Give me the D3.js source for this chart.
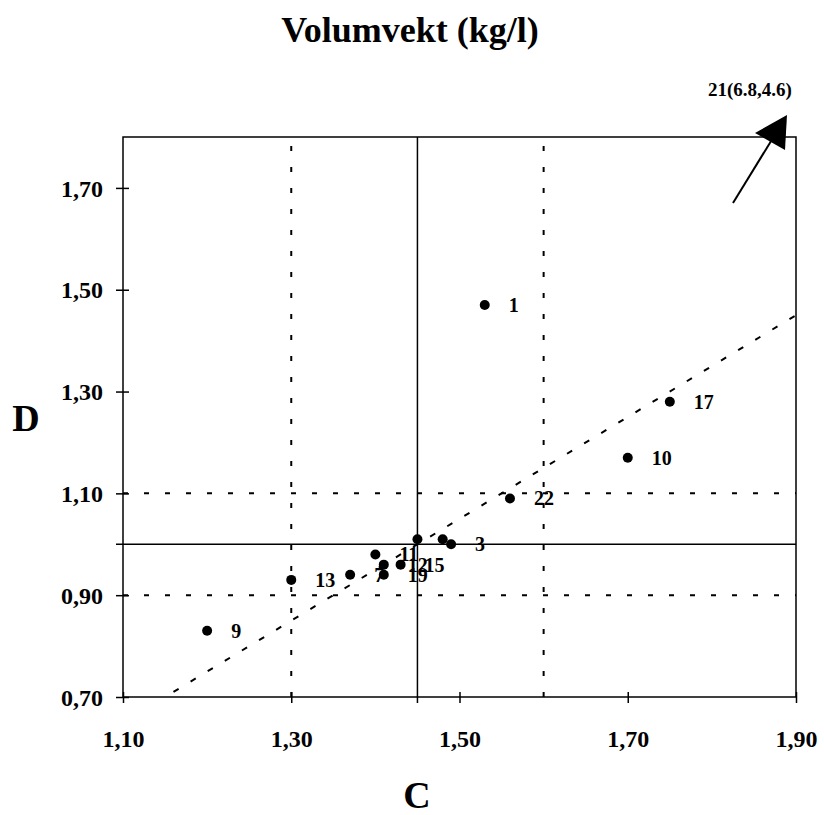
<!DOCTYPE html>
<html>
<head>
<meta charset="utf-8">
<script src="https://cdn.jsdelivr.net/npm/d3@7"></script>
<style>
  body { margin: 0; background: #fff; }
  text { font-family: "Liberation Serif", "Times New Roman", serif; font-weight: bold; fill: #000; }
</style>
</head>
<body>
<div id="chart"></div>
<script>
// data
const labels = ["1", "17", "10", "22", "3", "", "", "11", "7", "12", "15", "19", "13", "9"];
const cValues = [1.53, 1.75, 1.70, 1.56, 1.49, 1.48, 1.45, 1.40, 1.37, 1.41, 1.43, 1.41, 1.30, 1.20];
const dValues = [1.47, 1.28, 1.17, 1.09, 1.00, 1.01, 1.01, 0.98, 0.94, 0.96, 0.96, 0.94, 0.93, 0.83];
const xTicks = [1.10, 1.30, 1.50, 1.70, 1.90];
const yTicks = [0.70, 0.90, 1.10, 1.30, 1.50, 1.70];
const meanC = 1.45, meanD = 1.00;
const dashedC = [1.30, 1.60];
const dashedD = [0.90, 1.10];
const trendC = [1.16, 1.90];
const trendD = [0.71, 1.45];
const outlierLabel = "21(6.8,4.6)";

const width = 824, height = 815;
const margin = { top: 137, right: 28, bottom: 118, left: 123 };

const svg = d3.select("#chart")
    .append("svg")
    .attr("width", width)
    .attr("height", height);

const x = d3.scaleLinear().domain([1.10, 1.90]).range([margin.left, width - margin.right]);
const y = d3.scaleLinear().domain([0.70, 1.80]).range([height - margin.bottom, margin.top]);

const fmt = (d) => d.toFixed(2).replace(".", ",");

// dotted grid lines
svg.selectAll(".vdash").data(dashedC).enter()
    .append("line")
    .attr("x1", (d) => x(d)).attr("x2", (d) => x(d))
    .attr("y1", y.range()[0]).attr("y2", y.range()[1])
    .attr("stroke", "#000").attr("stroke-width", 2)
    .attr("stroke-dasharray", "5,16");

svg.selectAll(".hdash").data(dashedD).enter()
    .append("line")
    .attr("x1", x.range()[0]).attr("x2", x.range()[1])
    .attr("y1", (d) => y(d)).attr("y2", (d) => y(d))
    .attr("stroke", "#000").attr("stroke-width", 2)
    .attr("stroke-dasharray", "5,16");

// trend line
svg.append("line")
    .attr("x1", x(trendC[0])).attr("y1", y(trendD[0]))
    .attr("x2", x(trendC[1])).attr("y2", y(trendD[1]))
    .attr("stroke", "#000").attr("stroke-width", 2)
    .attr("stroke-dasharray", "6,14");

// mean lines (solid)
svg.append("line")
    .attr("x1", x(meanC)).attr("x2", x(meanC))
    .attr("y1", y.range()[0] + 6).attr("y2", y.range()[1])
    .attr("stroke", "#000").attr("stroke-width", 1.5);
svg.append("line")
    .attr("x1", x.range()[0] - 7).attr("x2", x.range()[1])
    .attr("y1", y(meanD)).attr("y2", y(meanD))
    .attr("stroke", "#000").attr("stroke-width", 1.5);

// frame
svg.append("rect")
    .attr("x", x.range()[0]).attr("y", y.range()[1])
    .attr("width", x.range()[1] - x.range()[0])
    .attr("height", y.range()[0] - y.range()[1])
    .attr("fill", "none").attr("stroke", "#000").attr("stroke-width", 1.5);

// axes
const xAxis = svg.append("g")
    .attr("transform", `translate(0, ${y.range()[0]})`)
    .call(d3.axisBottom(x).tickValues(xTicks).tickFormat(fmt).tickSize(6).tickSizeOuter(0));
xAxis.select(".domain").remove();
xAxis.selectAll(".tick line").attr("y1", -5).attr("stroke-width", 1.5);
xAxis.selectAll(".tick text")
    .attr("y", 50).attr("dy", 0)
    .style("font-size", "24px")
    .style("font-family", "Liberation Serif");

const yAxis = svg.append("g")
    .attr("transform", `translate(${x.range()[0]}, 0)`)
    .call(d3.axisLeft(y).tickValues(yTicks).tickFormat(fmt).tickSize(7).tickSizeOuter(0));
yAxis.select(".domain").remove();
yAxis.selectAll(".tick line").attr("x1", 6).attr("stroke-width", 1.5);
yAxis.selectAll(".tick text")
    .attr("x", -20).attr("dy", "0.34em")
    .style("font-size", "24px")
    .style("font-family", "Liberation Serif");

// points
const pts = svg.selectAll(".pt").data(cValues).enter();
pts.append("circle")
    .attr("cx", (d) => x(d))
    .attr("cy", (d, i) => y(dValues[i]))
    .attr("r", 5)
    .attr("fill", "#000");
pts.append("text")
    .attr("x", (d) => x(d) + 24)
    .attr("y", (d, i) => y(dValues[i]))
    .attr("dy", "0.35em")
    .style("font-size", "20px")
    .text((d, i) => labels[i]);

// arrow toward point 21 (off the chart)
const cx = x.range()[1], cy = y.range()[1];
svg.append("line")
    .attr("x1", cx - 63).attr("y1", cy + 66)
    .attr("x2", cx - 20).attr("y2", cy - 4)
    .attr("stroke", "#000").attr("stroke-width", 2);
svg.append("path")
    .attr("d", `M${cx - 9},${cy - 22} L${cx - 41},${cy - 4} L${cx - 11},${cy + 13} Z`)
    .attr("fill", "#000");
svg.append("text")
    .attr("x", cx - 46).attr("y", cy - 41)
    .attr("text-anchor", "middle")
    .style("font-size", "19px")
    .text(outlierLabel);

// titles
svg.append("text")
    .attr("x", 410).attr("y", 42)
    .attr("text-anchor", "middle")
    .style("font-size", "36px")
    .text("Volumvekt (kg/l)");
svg.append("text")
    .attr("x", 26).attr("y", 431)
    .attr("text-anchor", "middle")
    .style("font-size", "38px")
    .text("D");
svg.append("text")
    .attr("x", 417).attr("y", 808)
    .attr("text-anchor", "middle")
    .style("font-size", "38px")
    .text("C");
</script>
</body>
</html>
